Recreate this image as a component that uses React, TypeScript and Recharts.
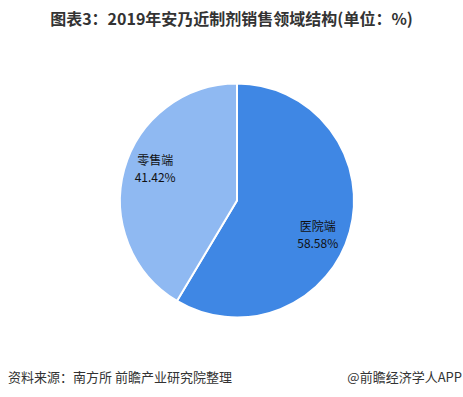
import { Pie, PieChart, Cell } from "recharts";

const categories = ["医院端", "零售端"];
const shares = [58.58, 41.42];
const colors = ["#3f87e4", "#8fb9f2"];

const data = categories.map((name, i) => ({ name, value: shares[i] }));

const RAD = Math.PI / 180;

function renderLabel(props: any) {
  const { cx, cy, midAngle, outerRadius, index } = props;
  const r = outerRadius * 0.75;
  const a = midAngle + (index === 0 ? -7.6 : -5.7);
  const x = cx + r * Math.cos(-a * RAD);
  const y = cy + r * Math.sin(-a * RAD);
  return (
    <text x={x} y={y} textAnchor="middle" fill="#111" fontSize={12} fontFamily="'Noto Sans CJK SC', sans-serif">
      <tspan x={x} dy={-4}>{data[index].name}</tspan>
      <tspan x={x} dy={17}>{data[index].value.toFixed(2)}%</tspan>
    </text>
  );
}

export default function App() {
  return (
    <div
      style={{
        position: "absolute",
        left: 0,
        top: 0,
        width: 463,
        height: 397,
        background: "#fff",
        fontFamily: "'Noto Sans CJK SC', sans-serif",
      }}
    >
      <div
        style={{
          position: "absolute",
          top: 6,
          left: 0,
          width: 463,
          textAlign: "center",
          fontSize: 16,
          fontWeight: "bold",
          color: "#333",
        }}
      >
        图表3：2019年安乃近制剂销售领域结构(单位：%)
      </div>
      <PieChart
        width={463}
        height={397}
        margin={{ top: 0, right: 0, bottom: 0, left: 0 }}
        style={{ position: "absolute", top: 0, left: 0 }}
      >
        <Pie
          data={data}
          dataKey="value"
          nameKey="name"
          cx={237}
          cy={200.5}
          outerRadius={117}
          startAngle={90}
          endAngle={-270}
          stroke="#fff"
          strokeWidth={2}
          label={renderLabel}
          labelLine={false}
          isAnimationActive={false}
        >
          {data.map((d, i) => (
            <Cell key={d.name} fill={colors[i]} />
          ))}
        </Pie>
      </PieChart>
      <div style={{ position: "absolute", top: 367, left: 8, fontSize: 13, color: "#333" }}>
        资料来源：南方所 前瞻产业研究院整理
      </div>
      <div style={{ position: "absolute", top: 367, right: 1, fontSize: 13, color: "#333" }}>
        @前瞻经济学人APP
      </div>
    </div>
  );
}
